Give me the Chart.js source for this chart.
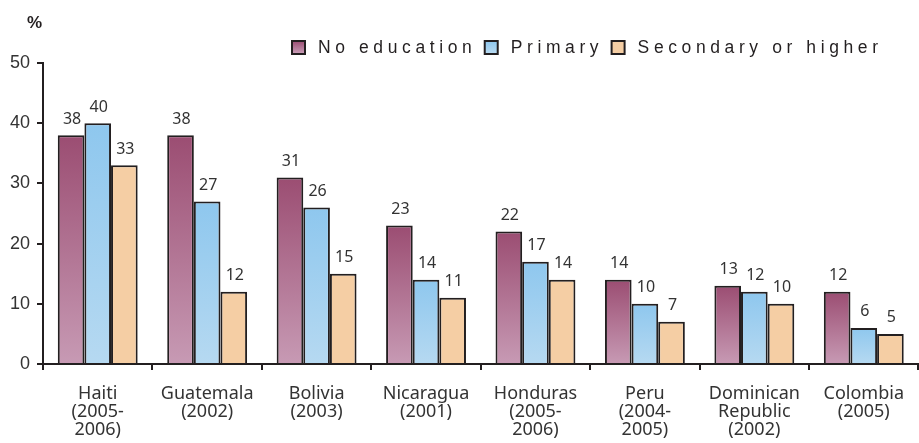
<!DOCTYPE html>
<html>
<head>
<meta charset="utf-8">
<script src="https://cdn.jsdelivr.net/npm/chart.js@4/dist/chart.umd.min.js"></script>
<style>
html,body{margin:0;padding:0;background:#fff;}
#wrap{width:919px;height:443px;position:relative;}
</style>
</head>
<body>
<div id="wrap"><canvas id="c"></canvas></div>
<script>
// data
const countries = [
	['Haiti','(2005-','2006)'],
	['Guatemala','(2002)'],
	['Bolivia','(2003)'],
	['Nicaragua','(2001)'],
	['Honduras','(2005-','2006)'],
	['Peru','(2004-','2005)'],
	['Dominican','Republic','(2002)'],
	['Colombia','(2005)']
];
const noEducation = [38, 38, 31, 23, 22, 14, 13, 12];
const primary = [40, 27, 26, 14, 17, 10, 12, 6];
const secondary = [33, 12, 15, 11, 14, 7, 10, 5];
const yTicks = [0, 10, 20, 30, 40, 50];

const ink = '#231f20';
const textCol = '#333333';

// gradient per bar, dark at the top, light at the base
function barGradient(top, bottom){
	return function(ctx){
		const chart = ctx.chart;
		if(!chart.chartArea || ctx.type !== 'data') return top;
		const y = chart.scales.y;
		const y0 = y.getPixelForValue(ctx.raw), y1 = y.getPixelForValue(0);
		const g = chart.ctx.createLinearGradient(0, y0, 0, y1);
		g.addColorStop(0, top);
		g.addColorStop(1, bottom);
		return g;
	};
}

const series = [
	{label:'No education', data:noEducation, top:'#9b4d72', bottom:'#c79ab4'},
	{label:'Primary', data:primary, top:'#8ec7ee', bottom:'#b6d9f1'},
	{label:'Secondary or higher', data:secondary, top:'#f5cea4', bottom:'#f5cea4'}
];

// value labels above each bar
const valueLabels = {
	id:'valueLabels',
	afterDatasetsDraw(chart){
		const c = chart.ctx;
		c.save();
		c.font = '16px "Noto Sans"';
		c.fillStyle = textCol;
		c.textAlign = 'center';
		c.textBaseline = 'bottom';
		chart.data.datasets.forEach(function(ds,i){
			chart.getDatasetMeta(i).data.forEach(function(bar,j){
				c.fillText(String(ds.data[j]), bar.x + 1, bar.y - 8);
			});
		});
		c.restore();
	}
};

// legend with wide letter spacing, plus the "%" unit
const topKey = {
	id:'topKey',
	afterDraw(chart){
		const c = chart.ctx;
		c.save();
		c.font = 'bold 17px "Liberation Sans"';
		c.fillStyle = ink;
		c.textBaseline = 'middle';
		c.fillText('%', 27, 23);
		c.font = '17.5px "Liberation Sans"';
		const ls = 4.6;
		c.letterSpacing = ls + 'px';
		let x = 292;
		const y = 47;
		series.forEach(function(s){
			const g = c.createLinearGradient(0, y-6, 0, y+6);
			g.addColorStop(0, s.top);
			g.addColorStop(1, s.bottom);
			c.fillStyle = g;
			c.fillRect(x, y-6, 13, 13);
			c.strokeStyle = ink;
			c.lineWidth = 2;
			c.strokeRect(x, y-6, 13, 13);
			c.fillStyle = ink;
			c.fillText(s.label, x + 26, y + 1);
			x += 26 + c.measureText(s.label).width - ls + 13;
		});
		c.restore();
	}
};

new Chart(document.getElementById('c'), {
	type:'bar',
	data:{
		labels:countries,
		datasets:series.map(function(s){
			return {
				label:s.label,
				data:s.data,
				backgroundColor:barGradient(s.top, s.bottom),
				borderColor:ink,
				borderWidth:2,
				borderSkipped:'bottom',
				categoryPercentage:0.73,
				barPercentage:1
			};
		})
	},
	options:{
		responsive:true,
		maintainAspectRatio:false,
		animation:false,
		layout:{padding:{top:63,right:0,left:0,bottom:0}},
		plugins:{legend:{display:false},tooltip:{enabled:false}},
		scales:{
			x:{
				grid:{display:true,offset:true,drawOnChartArea:false,drawTicks:true,tickLength:6,color:ink,lineWidth:2},
				border:{color:ink,width:2},
				ticks:{color:textCol,font:{family:'"Noto Sans"',size:18,lineHeight:1.0},padding:15,maxRotation:0,autoSkip:false},
				afterFit:function(s){ s.height = 79; }
			},
			y:{
				min:0,max:50,
				afterBuildTicks:function(s){ s.ticks = yTicks.map(function(v){ return {value:v}; }); },
				grid:{display:true,drawOnChartArea:false,drawTicks:true,tickLength:6,color:ink,lineWidth:2},
				border:{color:ink,width:2},
				ticks:{color:textCol,font:{family:'"Liberation Sans"',size:18},padding:7},
				afterFit:function(s){ s.width = 43; }
			}
		}
	},
	plugins:[valueLabels, topKey]
});
</script>
</body>
</html>
